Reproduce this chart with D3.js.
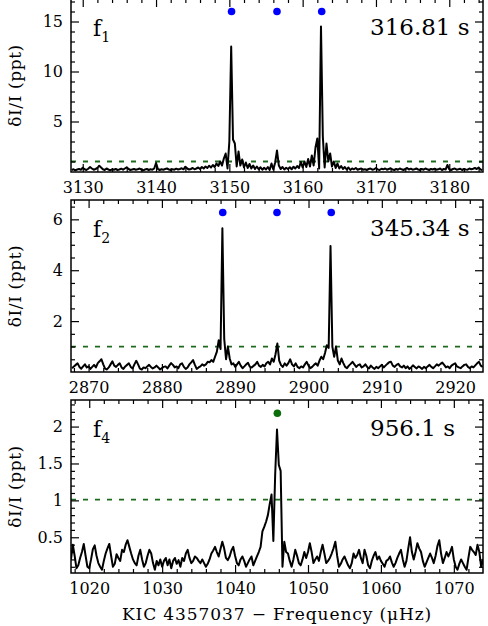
<!DOCTYPE html>
<html>
<head>
<meta charset="utf-8">
<script src="https://cdn.jsdelivr.net/npm/d3@7/dist/d3.min.js"></script>
<style>
  body { margin: 0; background: #fff; }
  svg { display: block; font-family: "DejaVu Serif", serif; }
</style>
</head>
<body>
<div id="wrapper"></div>
<script>
// ---- data ----
// amplitude spectra in ppt, evenly sampled in frequency (muHz)
const f1Start = 3128.5;
const f1Step = 0.25;
const f1Amp = [
  0.15, 0.22, 0.12, 0.20,  0.25, 0.18, 0.38, 0.22,  0.15, 0.28, 0.45, 0.30,
  0.18, 0.25, 0.35, 0.58,  0.40, 0.22, 0.15, 0.30,  0.20, 0.12, 0.22, 0.18,
  0.25, 0.15, 0.20, 0.28,  0.18, 0.30, 0.42, 0.25,  0.15, 0.20, 0.25, 0.18,
  0.22, 0.30, 0.18, 0.12,  0.20, 0.25, 0.15, 0.22,  0.18, 0.30, 0.85, 0.25,
  0.15, 0.22, 0.18, 0.25,  0.30, 0.20, 0.15, 0.22,  0.18, 0.28, 0.20, 0.25,
  0.32, 0.22, 0.48, 0.30,  0.20, 0.25, 0.35, 0.22,  0.30, 0.40, 0.25, 0.45,
  0.30, 0.50, 0.35, 0.58,  0.40, 0.65, 0.45, 0.80,  0.55, 1.00, 0.60, 1.30,
  1.80, 0.30, 3.00, 12.5,  3.20, 2.80, 0.50, 2.00,  0.60, 1.20, 0.40, 0.90,
  0.35, 0.75, 0.30, 0.60,  0.25, 0.50, 0.22, 0.42,  0.18, 0.38, 0.20, 0.45,
  0.15, 0.80, 0.20, 0.90,  2.10, 0.60, 0.25, 0.45,  0.20, 0.38, 0.25, 0.42,
  0.22, 0.48, 0.30, 0.55,  0.35, 0.95, 0.40, 1.00,  0.45, 1.25, 0.50, 1.60,
  0.60, 2.40, 3.30, 0.30,  14.5, 3.50, 0.40, 2.80,  1.00, 1.80, 0.50, 1.00,
  0.35, 0.80, 0.30, 0.55,  0.25, 0.45, 0.20, 0.40,  0.15, 0.30, 0.22, 0.35,
  0.18, 0.25, 0.30, 0.18,  0.22, 0.15, 0.25, 0.30,  0.18, 0.22, 0.35, 0.20,
  0.15, 0.28, 0.22, 0.30,  0.18, 0.25, 0.32, 0.20,  0.15, 0.25, 0.18, 0.30,
  0.22, 0.15, 0.25, 0.35,  0.20, 0.28, 0.18, 0.22,  0.30, 0.20, 0.15, 0.25,
  0.18, 0.30, 0.22, 0.15,  0.25, 0.20, 0.28, 0.18,  0.22, 0.30, 0.15, 0.25,
  0.20, 0.65, 0.22, 0.15,  0.25, 0.30, 0.18, 0.22,  0.28, 0.15, 0.25, 0.20,
  0.18, 0.30, 0.22, 0.28,  0.35, 0.25, 0.40, 0.20,  0.15
];

const f2Start = 2867.75;
const f2Step = 0.25;
const f2Amp = [
  0.15, 0.22, 0.28, 0.34,  0.20, 0.13, 0.22, 0.30,  0.18, 0.22, 0.12, 0.20,
  0.28, 0.18, 0.35, 0.42,  0.50, 0.30, 0.13, 0.10,  0.18, 0.30, 0.42, 0.25,
  0.20, 0.28, 0.34, 0.18,  0.12, 0.22, 0.28, 0.34,  0.20, 0.14, 0.30, 0.44,
  0.30, 0.13, 0.10, 0.18,  0.15, 0.22, 0.28, 0.20,  0.14, 0.18, 0.25, 0.18,
  0.10, 0.15, 0.20, 0.22,  0.14, 0.25, 0.35, 0.28,  0.18, 0.22, 0.15, 0.30,
  0.34, 0.20, 0.12, 0.18,  0.30, 0.38, 0.47, 0.28,  0.12, 0.18, 0.22, 0.30,
  0.25, 0.30, 0.40, 0.38,  0.47, 0.40, 0.60, 0.80,  1.25, 0.90, 5.65, 1.30,
  0.50, 1.00, 0.53, 0.30,  0.34, 0.20, 0.30, 0.40,  0.25, 0.15, 0.22, 0.30,
  0.36, 0.20, 0.18, 0.24,  0.30, 0.40, 0.25, 0.20,  0.28, 0.22, 0.34, 0.40,
  0.30, 0.53, 0.40, 0.70,  1.12, 0.45, 0.27, 0.20,  0.34, 0.25, 0.35, 0.50,
  0.30, 0.22, 0.34, 0.20,  0.15, 0.22, 0.18, 0.30,  0.40, 0.25, 0.15, 0.20,
  0.28, 0.34, 0.25, 0.45,  0.60, 0.50, 0.75, 1.05,  0.95, 4.95, 1.00, 0.60,
  1.00, 0.45, 0.30, 0.53,  0.35, 0.20, 0.15, 0.25,  0.32, 0.40, 0.30, 0.20,
  0.27, 0.30, 0.18, 0.22,  0.30, 0.20, 0.14, 0.25,  0.18, 0.12, 0.20, 0.15,
  0.22, 0.28, 0.18, 0.25,  0.32, 0.38, 0.40, 0.25,  0.20, 0.28, 0.32, 0.22,
  0.18, 0.25, 0.15, 0.22,  0.12, 0.18, 0.26, 0.20,  0.14, 0.22, 0.18, 0.12,
  0.20, 0.15, 0.22, 0.28,  0.20, 0.15, 0.22, 0.30,  0.25, 0.32, 0.37, 0.28,
  0.18, 0.22, 0.15, 0.25,  0.30, 0.34, 0.22, 0.18,  0.15, 0.22, 0.28, 0.30,
  0.20, 0.15, 0.22, 0.18,  0.26, 0.34, 0.40, 0.25,  0.20
];

const f4Start = 1017.5;
const f4Step = 0.25;
const f4Amp = [
  0.20, 0.40, 0.25, 0.08,  0.12, 0.22, 0.30, 0.41,  0.25, 0.10, 0.08, 0.20,
  0.34, 0.39, 0.25, 0.15,  0.10, 0.06, 0.18, 0.28,  0.35, 0.41, 0.25, 0.10,
  0.14, 0.27, 0.22, 0.18,  0.33, 0.30, 0.40, 0.46,  0.37, 0.28, 0.20, 0.15,
  0.12, 0.25, 0.33, 0.20,  0.10, 0.15, 0.25, 0.33,  0.28, 0.15, 0.06, 0.18,
  0.12, 0.20, 0.10, 0.18,  0.22, 0.12, 0.20, 0.08,  0.18, 0.22, 0.14, 0.19,
  0.10, 0.22, 0.18, 0.28,  0.33, 0.22, 0.15, 0.18,  0.24, 0.22, 0.18, 0.15,
  0.20, 0.15, 0.10, 0.14,  0.20, 0.28, 0.32, 0.37,  0.30, 0.24, 0.34, 0.44,
  0.35, 0.22, 0.19, 0.24,  0.32, 0.37, 0.25, 0.15,  0.12, 0.20, 0.24, 0.18,
  0.10, 0.15, 0.20, 0.24,  0.12, 0.18, 0.24, 0.30,  0.37, 0.58, 0.64, 0.71,
  0.80, 0.95, 1.08, 0.45,  1.35, 1.96, 1.48, 1.40,  0.10, 0.44, 0.30, 0.28,
  0.18, 0.10, 0.20, 0.33,  0.25, 0.15, 0.12, 0.20,  0.30, 0.22, 0.30, 0.42,
  0.30, 0.15, 0.20, 0.24,  0.18, 0.30, 0.40, 0.28,  0.15, 0.18, 0.22, 0.28,
  0.35, 0.44, 0.25, 0.10,  0.14, 0.20, 0.24, 0.18,  0.12, 0.08, 0.15, 0.28,
  0.22, 0.26, 0.33, 0.22,  0.15, 0.33, 0.25, 0.12,  0.08, 0.18, 0.25, 0.30,
  0.20, 0.24, 0.18, 0.14,  0.10, 0.18, 0.20, 0.24,  0.16, 0.10, 0.15, 0.22,
  0.28, 0.33, 0.20, 0.10,  0.18, 0.35, 0.50, 0.30,  0.20, 0.30, 0.42, 0.35,
  0.30, 0.18, 0.10, 0.16,  0.22, 0.28, 0.22, 0.15,  0.25, 0.38, 0.46, 0.28,
  0.15, 0.22, 0.30, 0.24,  0.30, 0.37, 0.20, 0.10,  0.06, 0.14, 0.20, 0.15,
  0.10, 0.06, 0.22, 0.37,  0.33, 0.30, 0.26, 0.40,  0.30, 0.10, 0.20
];

// identified frequencies (dots) and their marker heights
const f1Marks = [3150.3, 3156.5, 3162.6];
const f1MarkAmp = 16;
const f2Marks = [2888.3, 2895.7, 2903.1];
const f2MarkAmp = 6.27;
const f4Marks = [1045.8];
const f4MarkAmp = 2.18;

// detection thresholds (ppt)
const thresholds = [1.0, 1.0, 1.01];

// panel labels
const modeNames = ["1", "2", "4"];
const periodLabels = ["316.81 s", "345.34 s", "956.1 s"];

// axis ranges and tick labels
const xDomains = [[3128.4, 3184.6], [2867.6, 2923.8], [1017.5, 1074.0]];
const yDomains = [[-0.05, 17.25], [0, 6.76], [0.016, 2.36]];
const xTicks = [
  [3130, 3140, 3150, 3160, 3170, 3180],
  [2870, 2880, 2890, 2900, 2910, 2920],
  [1020, 1030, 1040, 1050, 1060, 1070],
];
const yTicks = [[5, 10, 15], [2, 4, 6], [0.5, 1, 1.5, 2]];
const yMinorSteps = [1, 0.5, 0.1];

// ---- layout ----
const width = 488;
const height = 626;
const plotLeft = 71;
const plotRight = 483;
const panelTops = [-1, 200, 400];
const panelBottoms = [172, 372, 573];

const svg = d3
  .select("#wrapper")
  .append("svg")
  .attr("width", width)
  .attr("height", height);

const panels = [
  { amp: f1Amp, start: f1Start, step: f1Step, marks: f1Marks, markAmp: f1MarkAmp, markColor: "#0000ff" },
  { amp: f2Amp, start: f2Start, step: f2Step, marks: f2Marks, markAmp: f2MarkAmp, markColor: "#0000ff" },
  { amp: f4Amp, start: f4Start, step: f4Step, marks: f4Marks, markAmp: f4MarkAmp, markColor: "#0b6e0b" },
];

panels.forEach((p, i) => {
  const top = panelTops[i];
  const bottom = panelBottoms[i];

  const xScale = d3.scaleLinear().domain(xDomains[i]).range([plotLeft, plotRight]);
  const yScale = d3.scaleLinear().domain(yDomains[i]).range([bottom, top]);

  const g = svg.append("g");

  // white panel background (covers tick labels of the panel above)
  g.append("rect")
    .attr("x", plotLeft)
    .attr("y", top)
    .attr("width", plotRight - plotLeft)
    .attr("height", bottom - top)
    .attr("fill", "#fff");

  const clipId = "clip" + i;
  g.append("clipPath")
    .attr("id", clipId)
    .append("rect")
    .attr("x", plotLeft)
    .attr("y", top)
    .attr("width", plotRight - plotLeft)
    .attr("height", bottom - top);

  // threshold
  g.append("line")
    .attr("x1", plotLeft)
    .attr("x2", plotRight)
    .attr("y1", yScale(thresholds[i]))
    .attr("y2", yScale(thresholds[i]))
    .attr("stroke", "#1c6b1c")
    .attr("stroke-width", 1.8)
    .attr("stroke-dasharray", "5,7");

  // spectrum
  const points = p.amp.map((a, k) => [p.start + k * p.step, a]);
  const line = d3
    .line()
    .x((d) => xScale(d[0]))
    .y((d) => yScale(d[1]));
  g.append("path")
    .datum(points)
    .attr("clip-path", `url(#${clipId})`)
    .attr("d", line)
    .attr("fill", "none")
    .attr("stroke", "#000")
    .attr("stroke-width", 2)
    .attr("stroke-linejoin", "round");

  // identified frequencies
  g.selectAll(".mark")
    .data(p.marks)
    .join("circle")
    .attr("class", "mark")
    .attr("cx", (d) => xScale(d))
    .attr("cy", yScale(p.markAmp))
    .attr("r", 3.8)
    .attr("fill", p.markColor);

  // axes: ticks on all four sides pointing in
  const xMinor = d3.range(Math.ceil(xDomains[i][0] / 2) * 2, xDomains[i][1], 2)
    .filter((v) => v % 10 !== 0);
  const yMinor = d3.range(yMinorSteps[i], yDomains[i][1], yMinorSteps[i])
    .map((v) => +v.toFixed(3))
    .filter((v) => !yTicks[i].some((t) => Math.abs(t - v) < 1e-6));

  const styleAxis = (sel) => {
    sel.select(".domain").remove();
    sel.selectAll(".tick line").attr("stroke", "#000").attr("stroke-width", 1.2);
    sel.selectAll(".tick text")
      .attr("fill", "#000")
      .style("font-family", "DejaVu Serif")
      .style("font-size", "16px");
  };

  const fmt = i === 2 ? d3.format("~g") : d3.format("d");

  [[d3.axisBottom, bottom, true], [d3.axisTop, top, false]].forEach(([ax, y, lab]) => {
    g.append("g")
      .attr("transform", `translate(0,${y})`)
      .call(ax(xScale).tickValues(xTicks[i]).tickSizeInner(-8).tickSizeOuter(0)
        .tickPadding(10).tickFormat(lab ? d3.format("d") : () => ""))
      .call(styleAxis);
    g.append("g")
      .attr("transform", `translate(0,${y})`)
      .call(ax(xScale).tickValues(xMinor).tickSizeInner(-4).tickSizeOuter(0).tickFormat(() => ""))
      .call(styleAxis);
  });

  [[d3.axisLeft, plotLeft, true], [d3.axisRight, plotRight, false]].forEach(([ax, x, lab]) => {
    g.append("g")
      .attr("transform", `translate(${x},0)`)
      .call(ax(yScale).tickValues(yTicks[i]).tickSizeInner(-8).tickSizeOuter(0)
        .tickPadding(8).tickFormat(lab ? fmt : () => ""))
      .call(styleAxis);
    g.append("g")
      .attr("transform", `translate(${x},0)`)
      .call(ax(yScale).tickValues(yMinor).tickSizeInner(-4).tickSizeOuter(0).tickFormat(() => ""))
      .call(styleAxis);
  });

  // frame
  g.append("rect")
    .attr("x", plotLeft)
    .attr("y", top)
    .attr("width", plotRight - plotLeft)
    .attr("height", bottom - top)
    .attr("fill", "none")
    .attr("stroke", "#000")
    .attr("stroke-width", 1.5);

  // y label
  g.append("text")
    .attr("transform", `translate(15,${(top + bottom) / 2}) rotate(-90)`)
    .attr("text-anchor", "middle")
    .attr("dy", "0.35em")
    .style("font-size", "17px")
    .style("letter-spacing", "0.6px")
    .text("\u03B4I/I (ppt)");

  // mode name
  const name = g.append("text")
    .attr("x", 93)
    .attr("y", top + 37)
    .style("font-size", "22px");
  name.append("tspan").text("f");
  name.append("tspan")
    .attr("dy", 6)
    .style("font-size", "14px")
    .text(modeNames[i]);

  // period
  g.append("text")
    .attr("x", 370)
    .attr("y", top + 36)
    .style("font-size", "23px")
    .text(periodLabels[i]);
});

svg.append("text")
  .attr("x", (plotLeft + plotRight) / 2)
  .attr("y", 620)
  .attr("text-anchor", "middle")
  .style("font-size", "17px")
  .style("letter-spacing", "0.9px")
  .text("KIC 4357037  \u2212  Frequency (\u03BCHz)");
</script>
</body>
</html>
